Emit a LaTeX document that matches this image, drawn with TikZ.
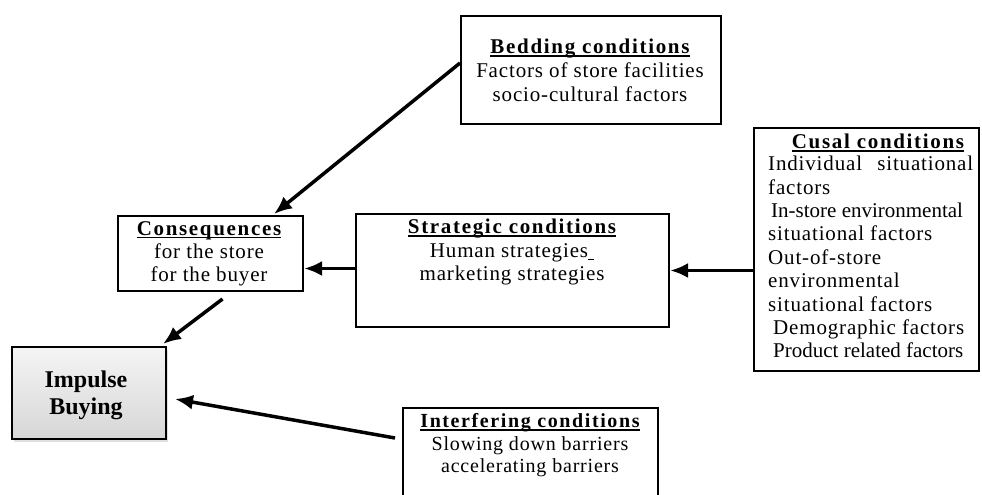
\documentclass[tikz,border=0pt]{standalone}
\usepackage{fontspec}
\setmainfont{Liberation Serif}
\newfontfamily\tf[LetterSpace=4]{Liberation Serif}
\newfontfamily\tfc[LetterSpace=0]{Liberation Serif}
\newfontfamily\tfb[LetterSpace=8]{Liberation Serif}
\newcommand\ttlx[1]{{\tfb\bfseries\setbox0\hbox{#1}\rlap{\rule[-3pt]{\wd0}{1.3pt}}\box0}}
\usetikzlibrary{arrows.meta,shadows}
\begin{document}
\begin{tikzpicture}[x=1pt,y=-1pt,
  box/.style={draw,line width=2pt,inner sep=0pt,anchor=north west},
  txt/.style={inner sep=0pt,anchor=north,align=center,font=\tf\fontsize{21}{24}\selectfont},
  arr/.style={line width=3.5pt,-{Latex[length=18pt,width=15pt]}}]
\useasboundingbox (0,0) rectangle (982,495);
% boxes
\node[box,minimum width=260pt,minimum height=108pt] (bed) at (460,15) {};
\node[box,minimum width=225pt,minimum height=243pt] (cus) at (753,127) {};
\node[box,minimum width=313pt,minimum height=113pt] (strat) at (355,213) {};
\node[box,minimum width=185pt,minimum height=75pt] (cons) at (117,215) {};
\node[box,minimum width=255pt,minimum height=100pt] (intf) at (402,407) {};
\node[box,minimum width=154pt,minimum height=92pt,top color=gray!8,bottom color=gray!32,
      drop shadow={opacity=0.25,shadow xshift=2pt,shadow yshift=-3pt}] (imp) at (11,346) {};
% texts
\node[txt] (bedt) at (590,39) {\ttlx{Bedding conditions}\\Factors of store facilities\\socio-cultural factors};
\node[txt,font=\tf\fontsize{21}{23}\selectfont] (const) at (209,221) {\ttlx{Consequences}\\for the store\\for the buyer};
\node[txt,font=\tf\fontsize{21}{23.5}\selectfont] (stratt) at (512,219) {\ttlx{Strategic conditions}\\Human strategies\rule[-3pt]{6pt}{0.9pt}\\marketing strategies};
\node[txt,font=\tf\fontsize{20}{22.5}\selectfont] (intft) at (530,413.5) {\ttlx{Interfering conditions}\\Slowing down barriers\\accelerating barriers};
\node[txt] (cust) at (878,134) {\ttlx{Cusal conditions}};
\node[txt,anchor=north west,align=left,font=\tf\fontsize{21}{23.4}\selectfont] (cusb) at (768,156)
  {\hbox to 205pt{Individual\hfill situational}\\factors\\{\tfc\hspace*{3pt}In-store environmental}\\situational factors\\Out-of-store\\environmental\\situational factors\\\hspace*{5pt}Demographic factors\\{\tfc\hspace*{5pt}Product related factors}};
\node[inner sep=0pt,anchor=north,align=center,font=\bfseries\fontsize{24}{27}\selectfont] (impt) at (86,371) {Impulse\\Buying};
% connectors
\draw[arr] ([yshift=7pt]bed.west) -- ([xshift=-30pt,yshift=1pt]cons.north east);
\draw[arr] ([yshift=2pt]strat.west) -- ([yshift=2pt]strat.west -| cons.east);
\draw[arr] (cus.west |- strat.east) -- (strat.east);
\draw[arr] ([xshift=12pt,yshift=-7pt]cons.south) -- ([xshift=-4pt,yshift=2pt]imp.north east);
\draw[arr] ([xshift=-7pt,yshift=20pt]intf.west) -- ([xshift=8pt,yshift=-6pt]imp.east);
\end{tikzpicture}
\end{document}
